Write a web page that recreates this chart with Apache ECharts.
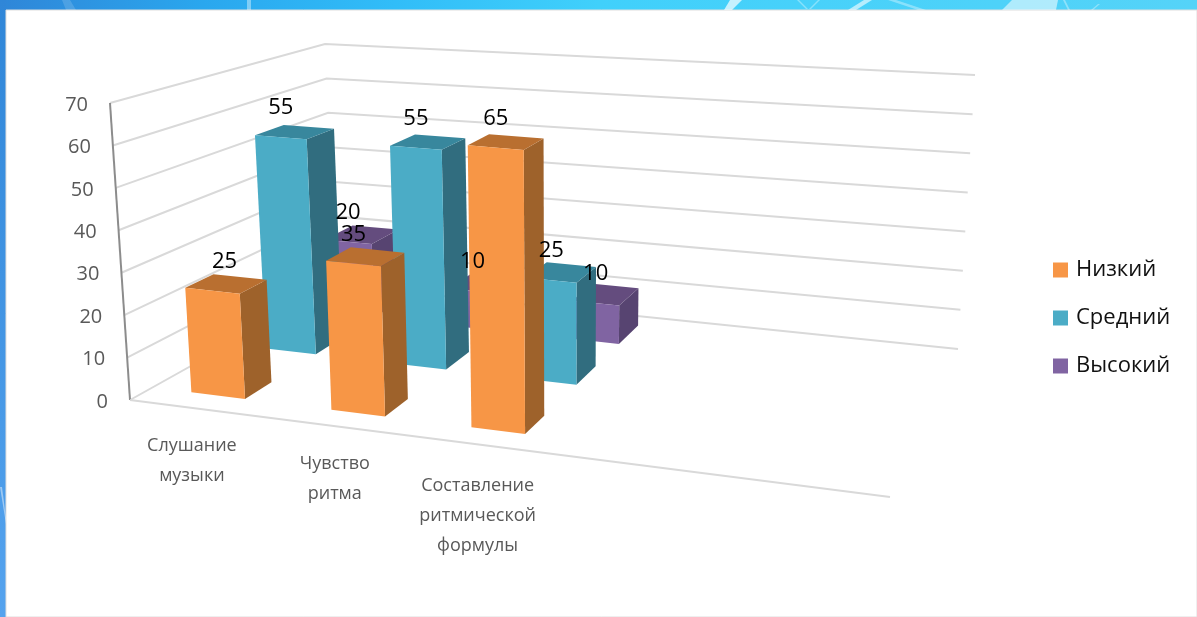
<!DOCTYPE html>
<html>
<head>
<meta charset="utf-8">
<title>Chart</title>
<script src="https://cdn.jsdelivr.net/npm/echarts@6/dist/echarts.min.js"></script>
<style>
  html, body { margin: 0; padding: 0; background: #fff; }
  #chart { width: 1197px; height: 617px; }
</style>
</head>
<body>
<div id="chart"></div>
<script>
// data
const categories = ['Слушание\nмузыки', 'Чувство\nритма', 'Составление\nритмической\nформулы', '', ''];
const low = [25, 35, 65];
const medium = [55, 55, 25];
const high = [20, 10, 10];
const valueTicks = [0, 10, 20, 30, 40, 50, 60, 70];

const FONT = '"Open Sans", "Noto Sans", sans-serif';
const W = 1197;
const H = 617;

// corners of the 3d box as seen on the slide: floor and the 70 plane
// order: front left, front right, back right, back left
const floorQuad = [[130, 400], [890, 497], [958, 349], [336, 285]];
const topQuad = [[110, 103], [906, 170], [975, 75], [325, 44]];

const lerp = (a, b, s) => a + (b - a) * s;
const onQuad = (q, u, v) => [
  lerp(lerp(q[0][0], q[1][0], u), lerp(q[3][0], q[2][0], u), v),
  lerp(lerp(q[0][1], q[1][1], u), lerp(q[3][1], q[2][1], u), v)
];
// u along categories, v into the depth, t share of the value axis
const project = (u, v, t) => {
  const a = onQuad(floorQuad, u, v);
  const b = onQuad(topQuad, u, v);
  return [lerp(a[0], b[0], t), lerp(a[1], b[1], t)];
};

// the hidden cartesian fills the page, so its pixels normalise to u and t
const toUT = (api, cat, val) => {
  const p = api.coord([cat, val]);
  return [0.94 * p[0] / W - 0.006, 1 - p[1] / H];
};

const BAR_W = 0.072;
const BAR_D = 0.14;
const LANES = [0.18, 0.555, 0.865];

const faceColors = [
  { front: '#F79646', top: '#B96F30', side: '#9E622B' },
  { front: '#4BACC6', top: '#38879D', side: '#316D7F' },
  { front: '#8064A2', top: '#644C7E', side: '#574471' }
];

const barItem = (lane) => (params, api) => {
  const cat = api.value(0);
  const val = api.value(1);
  const [uc, t] = toUT(api, cat, val);
  const [, t0] = toUT(api, cat, 0);
  const vc = LANES[lane];
  const u0 = uc - BAR_W / 2, u1 = uc + BAR_W / 2;
  const v0 = vc - BAR_D / 2, v1 = vc + BAR_D / 2;
  const c = faceColors[lane];
  const poly = (pts, fill, z2) => ({
    type: 'polygon',
    z2,
    shape: { points: pts },
    style: { fill }
  });
  const depth = (2 - lane) * 10 + cat;
  const anchor = project(uc, v0, t);
  // the first label sits further right on the slide
  const dx = lane === 0 && cat === 0 ? 12 : 0;
  return {
    type: 'group',
    children: [
      poly([project(u1, v0, t0), project(u1, v1, t0), project(u1, v1, t), project(u1, v0, t)], c.side, depth),
      poly([project(u0, v0, t), project(u1, v0, t), project(u1, v1, t), project(u0, v1, t)], c.top, depth),
      poly([project(u0, v0, t0), project(u1, v0, t0), project(u1, v0, t), project(u0, v0, t)], c.front, depth),
      {
        type: 'text',
        z2: 100,
        x: anchor[0] + dx,
        y: anchor[1] - 29,
        style: { text: String(val), fill: '#000', font: '22px ' + FONT, align: 'center', verticalAlign: 'middle' }
      }
    ]
  };
};

const wallItem = (params, api) => {
  const [, t] = toUT(api, 0, api.value(0));
  return {
    type: 'polyline',
    shape: { points: [project(0, 0, t), project(0, 1, t), project(1, 1, t)] },
    style: { stroke: '#D9D9D9', lineWidth: 2, fill: 'none' }
  };
};

const tickItem = (params, api) => {
  const [, t] = toUT(api, 0, api.value(0));
  const p = project(0, 0, t);
  return {
    type: 'text',
    x: p[0] - 22,
    y: p[1] + 2,
    style: { text: String(api.value(0)), fill: '#595959', font: '20px ' + FONT, align: 'right', verticalAlign: 'middle' }
  };
};

const catItem = (params, api) => {
  const i = api.value(0);
  const [u] = toUT(api, i, 0);
  const p = project(u, 0, 0);
  return {
    type: 'text',
    x: p[0] - 5,
    y: p[1] + (i === 2 ? 26 : 22),
    style: {
      text: categories[i], fill: '#595959', font: '18px ' + FONT,
      align: 'center', verticalAlign: 'top', lineHeight: 30
    }
  };
};

const frameItem = (params, api) => {
  const [, t0] = toUT(api, 0, 0);
  const [, t1] = toUT(api, 0, 70);
  const a = project(0, 0, t0), b = project(0, 0, t1), c = project(1, 0, t0);
  return {
    type: 'group',
    children: [
      { type: 'line', shape: { x1: a[0], y1: a[1], x2: b[0], y2: b[1] }, style: { stroke: '#8C8C8C', lineWidth: 2 } },
      { type: 'line', shape: { x1: a[0], y1: a[1], x2: c[0], y2: c[1] }, style: { stroke: '#D9D9D9', lineWidth: 2 } }
    ]
  };
};

const barSeries = (name, values, lane) => ({
  name,
  type: 'custom',
  z: 5,
  clip: false,
  itemStyle: { color: faceColors[lane].front },
  renderItem: barItem(lane),
  encode: { x: 0, y: 1 },
  data: values.map((v, i) => [i, v])
});

// white streaks of the slide background, top strip and left strip
const streak = (points, opacity) => ({
  type: 'polygon', z: 1, silent: true,
  shape: { points },
  style: { fill: '#fff', opacity }
});

const chart = echarts.init(document.getElementById('chart'), null, { renderer: 'canvas' });

chart.setOption({
  animation: false,
  backgroundColor: '#fff',
  grid: { left: 0, top: 0, right: 0, bottom: 0, show: false },
  xAxis: { type: 'category', data: categories, show: false },
  yAxis: { type: 'value', min: 0, max: 70, show: false },
  legend: {
    left: 1048,
    top: 254,
    orient: 'vertical',
    itemWidth: 15,
    itemHeight: 15,
    itemGap: 26,
    selectedMode: false,
    data: [
      { name: 'Низкий', icon: 'rect' },
      { name: 'Средний', icon: 'rect' },
      { name: 'Высокий', icon: 'rect' }
    ],
    textStyle: { color: '#111', fontFamily: FONT, fontSize: 22, padding: [0, 0, 0, 3] }
  },
  graphic: [
    { type: 'rect', z: 0, shape: { x: 0, y: 0, width: W, height: 10 }, style: { fill: new echarts.graphic.LinearGradient(0, 0, 1, 0, [
      { offset: 0, color: '#2F86D8' }, { offset: 0.17, color: '#2AA7EE' }, { offset: 0.33, color: '#31BDF8' }, { offset: 0.5, color: '#40D0FB' }, { offset: 1, color: '#55D3F8' }
    ]) } },
    { type: 'rect', z: 0, shape: { x: 0, y: 0, width: 6, height: H }, style: { fill: new echarts.graphic.LinearGradient(0, 0, 0, 1, [
      { offset: 0, color: '#2F86D8' }, { offset: 1, color: '#55A3EE' }
    ]) } },
    streak([[62, 0], [70, 0], [76, 10], [66, 10]], 0.15),
    streak([[247, 0], [251, 0], [251, 10], [247, 10]], 0.4),
    streak([[730, 0], [742, 0], [732, 10], [724, 10]], 0.7),
    streak([[797, 0], [799, 0], [808, 9], [806, 9]], 0.35),
    streak([[818, 0], [820, 0], [811, 9], [809, 9]], 0.35),
    streak([[864, 0], [872, 0], [856, 10], [848, 10]], 0.6),
    streak([[888, 0], [896, 0], [926, 10], [918, 10]], 0.35),
    streak([[1012, 0], [1058, 0], [1056, 10], [1002, 10]], 0.55),
    streak([[1063, 0], [1065, 0], [1070, 10], [1068, 10]], 0.35),
    streak([[1098, 4], [1100, 4], [1093, 10], [1091, 10]], 0.35),
    streak([[0, 487], [2, 487], [6, 518], [6, 524]], 0.45),
    { type: 'rect', z: 0, shape: { x: 6, y: 10, width: W - 6, height: H - 10 }, style: { fill: '#fff', stroke: '#DEDEDE', lineWidth: 1 } }
  ],
  series: [
    { type: 'custom', z: 2, silent: true, renderItem: wallItem, data: valueTicks.map(v => [v]), encode: { y: 0 } },
    { type: 'custom', z: 3, silent: true, renderItem: frameItem, data: [[0]] },
    { type: 'custom', z: 3, silent: true, renderItem: tickItem, data: valueTicks.map(v => [v]) },
    { type: 'custom', z: 3, silent: true, renderItem: catItem, data: [[0], [1], [2]] },
    barSeries('Высокий', high, 2),
    barSeries('Средний', medium, 1),
    barSeries('Низкий', low, 0)
  ]
});
</script>
</body>
</html>
